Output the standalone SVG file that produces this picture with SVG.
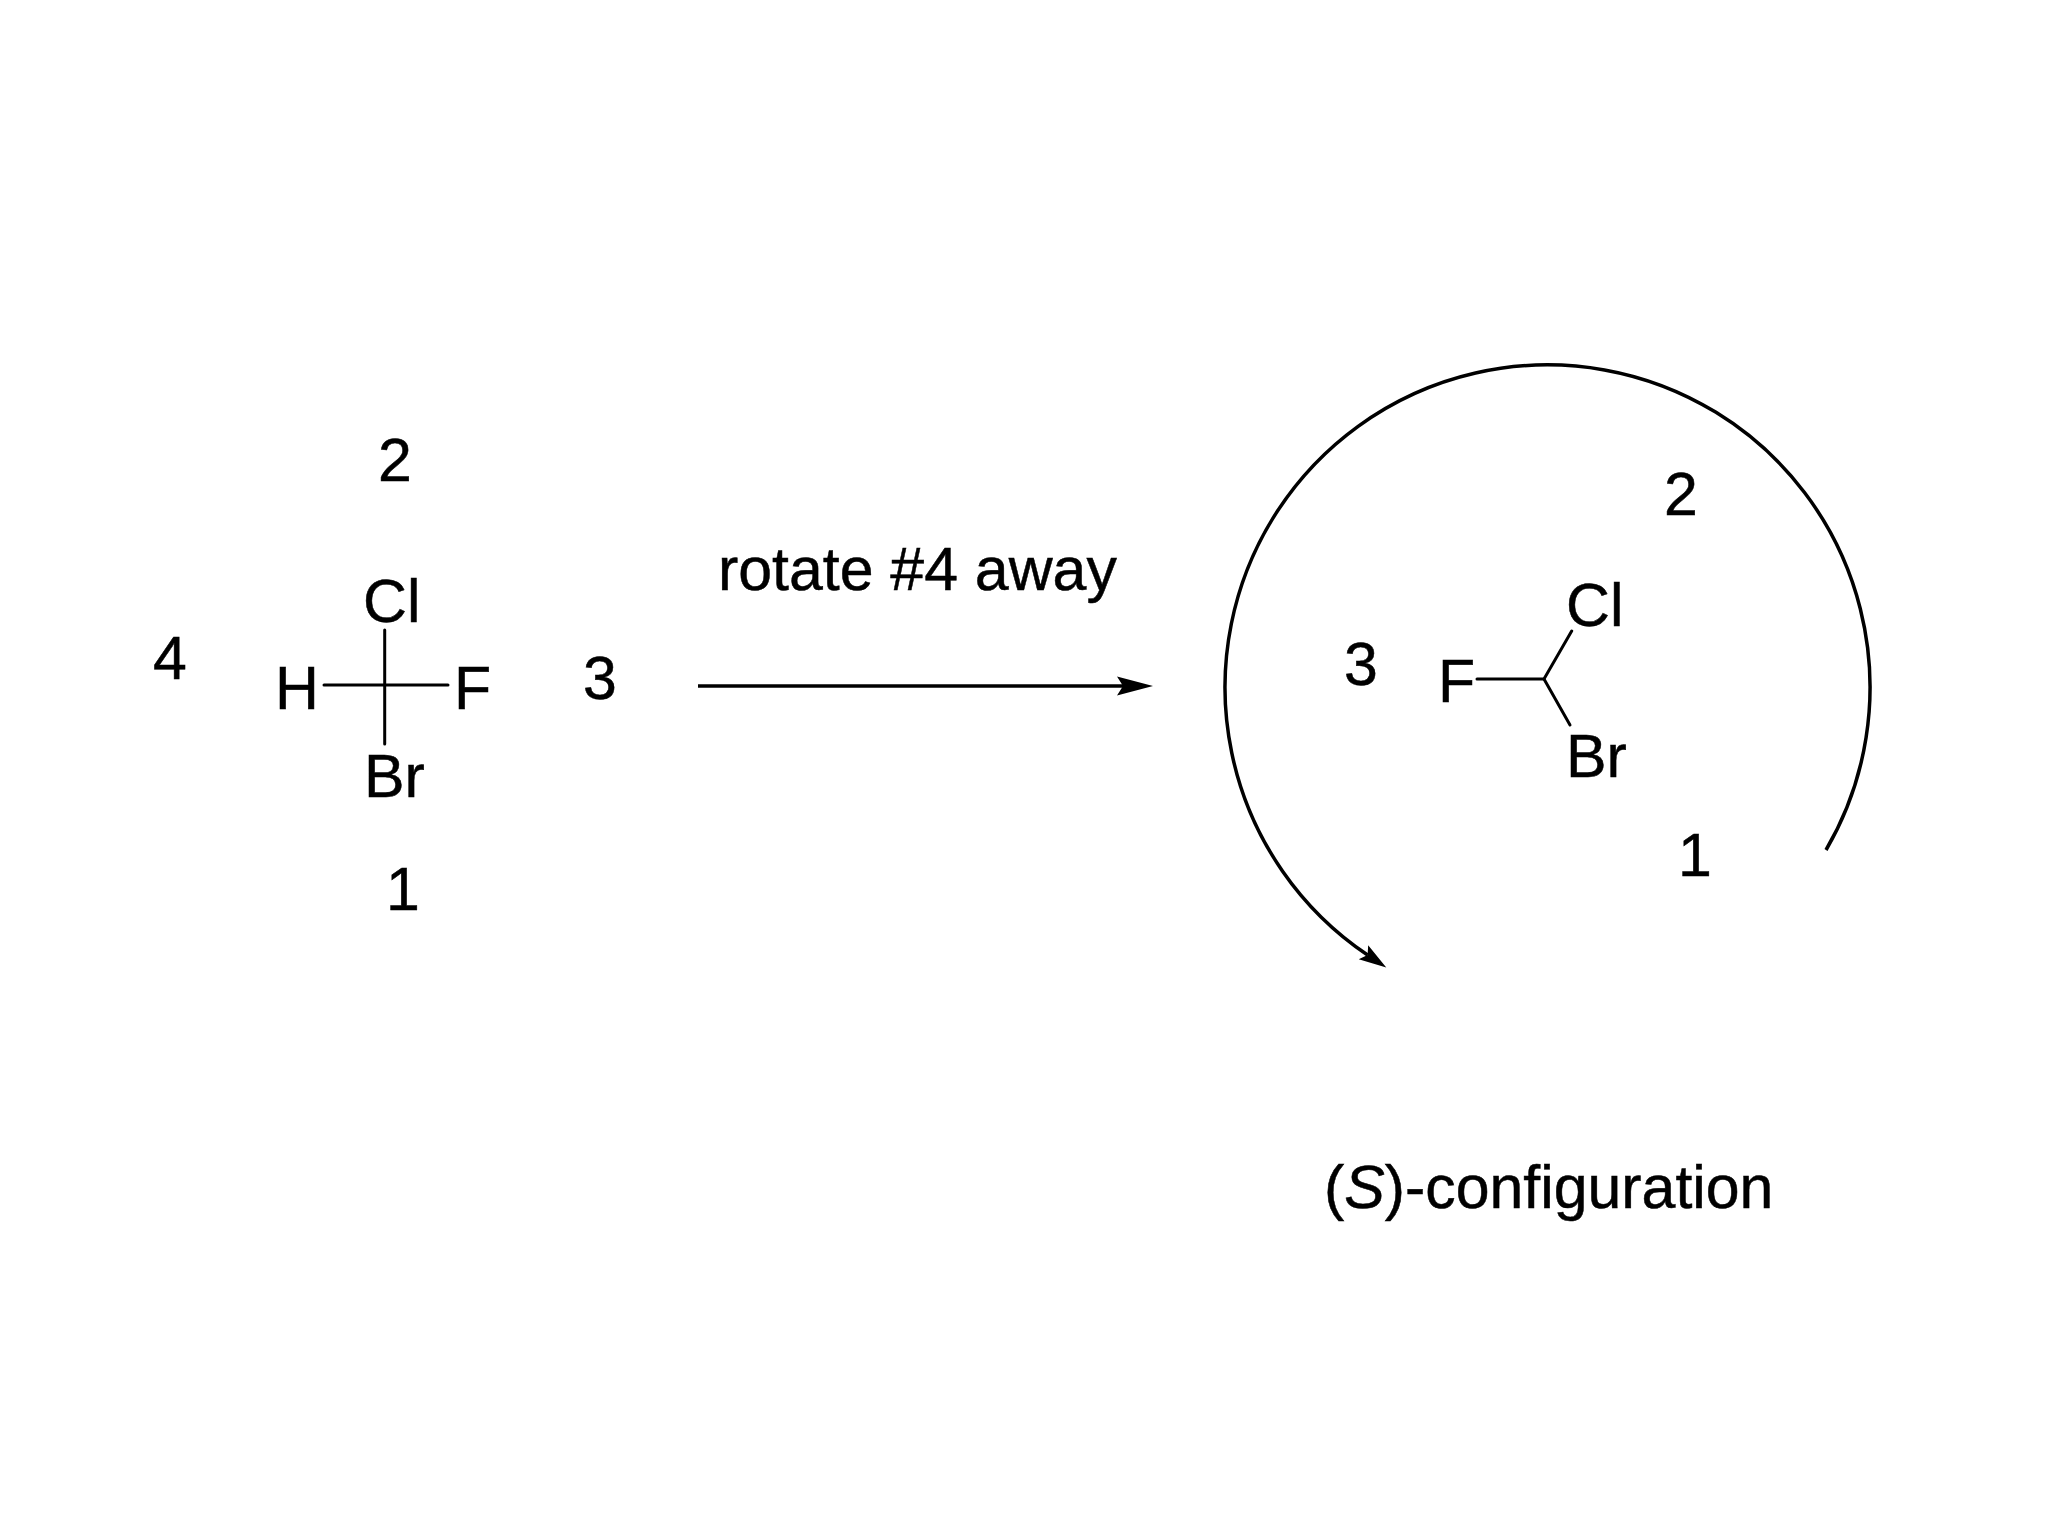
<svg xmlns="http://www.w3.org/2000/svg" width="2048" height="1536" viewBox="0 0 2048 1536">
<defs>
<style>
text{font-family:"Liberation Sans",Arial,sans-serif;font-size:60.800px;fill:#000;stroke:#000;stroke-width:0.500}
.b{fill:none;stroke:#000;stroke-width:3;stroke-linecap:round}
.a{fill:none;stroke:#000;stroke-width:3.500}
</style>
<marker id="headS" viewBox="0 -10 38 20" refX="6" refY="0" markerWidth="38" markerHeight="20" markerUnits="userSpaceOnUse" orient="auto"><path d="M0 -9.500L36 0L0 9.500L6 0Z" fill="#000"/></marker>
<marker id="headC" viewBox="0 -10 30 20" refX="5" refY="0" markerWidth="30" markerHeight="20" markerUnits="userSpaceOnUse" orient="auto"><path d="M0 -8.500L27.500 0L0 8.500L5 0Z" fill="#000"/></marker>
</defs>
<rect width="2048" height="1536" fill="#fff"/>
<g id="connectors">
<path class="b" d="M384.700 630V744"/>
<path class="b" d="M324 685H448"/>
<path class="b" d="M1477 679H1544L1571.700 631"/>
<path class="b" d="M1544 679L1570 725"/>
<path class="a" d="M698 686H1123" marker-end="url(#headS)"/>
<path class="a" d="M1826 850A322.500 322.500 0 1 0 1367.600 955" marker-end="url(#headC)"/>
</g>
<g id="left-rank-2"><text x="378" y="481">2</text></g>
<g id="left-Cl"><text x="363" y="622">Cl</text></g>
<g id="left-rank-4"><text x="153" y="679">4</text></g>
<g id="left-H"><text x="275" y="709">H</text></g>
<g id="left-F"><text x="454" y="709">F</text></g>
<g id="left-rank-3"><text x="583" y="699">3</text></g>
<g id="left-Br"><text x="364" y="797">Br</text></g>
<g id="left-rank-1"><text x="386" y="910">1</text></g>
<g id="arrow-label"><text x="718" y="590">rotate #4 away</text></g>
<g id="right-rank-2"><text x="1664" y="515">2</text></g>
<g id="right-Cl"><text x="1566" y="626">Cl</text></g>
<g id="right-rank-3"><text x="1344" y="685">3</text></g>
<g id="right-F"><text x="1438" y="702">F</text></g>
<g id="right-Br"><text x="1566" y="777">Br</text></g>
<g id="right-rank-1"><text x="1678" y="876">1</text></g>
<g id="caption"><text x="1324" y="1208">(<tspan font-style="italic">S</tspan>)-configuration</text></g>
</svg>
